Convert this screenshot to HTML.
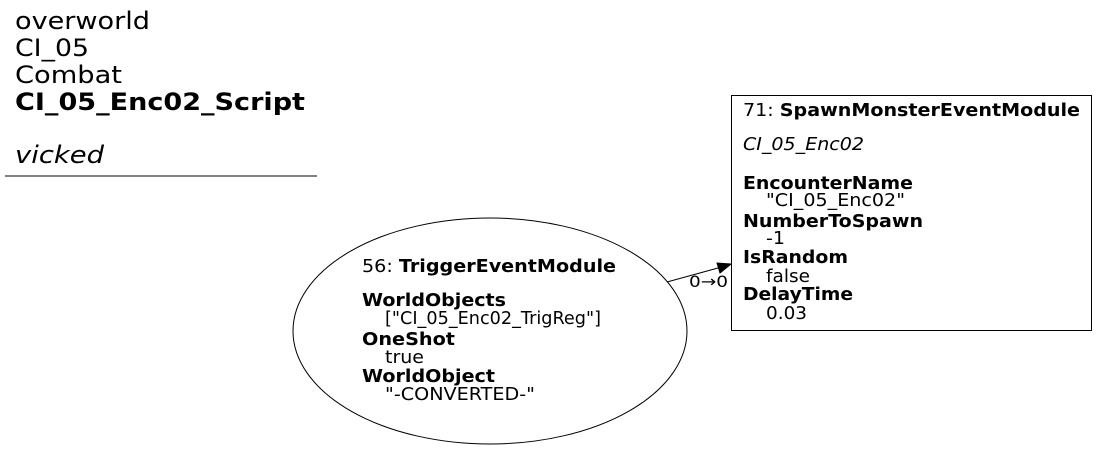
<!DOCTYPE html>
<html><head><meta charset="utf-8"><style>
body{margin:0;background:#fff;width:1097px;height:451px;overflow:hidden}
svg text{font-family:"DejaVu Sans","Liberation Sans",sans-serif;fill:#000}
</style></head><body>
<svg width="1097" height="451" viewBox="0 0 1097 451" xmlns="http://www.w3.org/2000/svg">
<g font-size="24">
<text x="15" y="29" textLength="135" lengthAdjust="spacingAndGlyphs">overworld</text>
<text x="15" y="56" textLength="74" lengthAdjust="spacingAndGlyphs">CI_05</text>
<text x="15" y="83" textLength="107" lengthAdjust="spacingAndGlyphs">Combat</text>
<text x="15" y="110" font-weight="bold" textLength="290" lengthAdjust="spacingAndGlyphs">CI_05_Enc02_Script</text>
<text x="15" y="163" font-style="italic" textLength="89" lengthAdjust="spacingAndGlyphs">vicked</text>
</g>
<line x1="5" y1="176" x2="317" y2="176" stroke="#000" stroke-width="1"/>
<ellipse cx="490" cy="331" rx="197" ry="113" fill="none" stroke="#000"/>
<g font-size="17.5">
<text x="362" y="272" textLength="254" lengthAdjust="spacingAndGlyphs">56: <tspan font-weight="bold">TriggerEventModule</tspan></text>
<text x="362" y="306" font-weight="bold" textLength="144" lengthAdjust="spacingAndGlyphs">WorldObjects</text>
<text x="385" y="324" textLength="216" lengthAdjust="spacingAndGlyphs">["CI_05_Enc02_TrigReg"]</text>
<text x="362" y="345" font-weight="bold" textLength="93" lengthAdjust="spacingAndGlyphs">OneShot</text>
<text x="385" y="363" textLength="39" lengthAdjust="spacingAndGlyphs">true</text>
<text x="362" y="382" font-weight="bold" textLength="133" lengthAdjust="spacingAndGlyphs">WorldObject</text>
<text x="385" y="400" textLength="150" lengthAdjust="spacingAndGlyphs">"-CONVERTED-"</text>
</g>
<rect x="731.5" y="95.5" width="360" height="235" fill="none" stroke="#000"/>
<g font-size="17.5">
<text x="743" y="116" textLength="337" lengthAdjust="spacingAndGlyphs">71: <tspan font-weight="bold">SpawnMonsterEventModule</tspan></text>
<text x="743" y="150" font-style="italic" textLength="121" lengthAdjust="spacingAndGlyphs">CI_05_Enc02</text>
<text x="743" y="189" font-weight="bold" textLength="170" lengthAdjust="spacingAndGlyphs">EncounterName</text>
<text x="766" y="206" textLength="139" lengthAdjust="spacingAndGlyphs">"CI_05_Enc02"</text>
<text x="743" y="227" font-weight="bold" textLength="180" lengthAdjust="spacingAndGlyphs">NumberToSpawn</text>
<text x="766" y="244" textLength="19" lengthAdjust="spacingAndGlyphs">-1</text>
<text x="743" y="263" font-weight="bold" textLength="105" lengthAdjust="spacingAndGlyphs">IsRandom</text>
<text x="766" y="282" textLength="44" lengthAdjust="spacingAndGlyphs">false</text>
<text x="743" y="300" font-weight="bold" textLength="110" lengthAdjust="spacingAndGlyphs">DelayTime</text>
<text x="766" y="319" textLength="41" lengthAdjust="spacingAndGlyphs">0.03</text>
</g>
<line x1="667" y1="282" x2="718" y2="268" stroke="#000"/>
<polygon points="731,264 717,263 720,273" fill="#000" stroke="#000"/>
<text x="689" y="287" font-size="16" textLength="39" lengthAdjust="spacingAndGlyphs">0→0</text>
</svg>
</body></html>
